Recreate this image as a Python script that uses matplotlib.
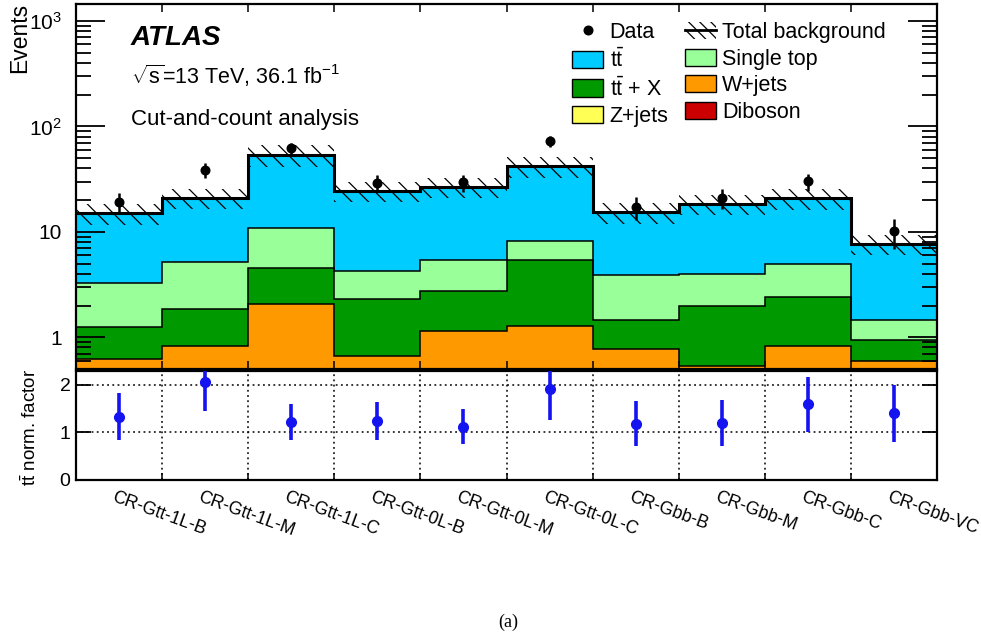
import numpy as np
import matplotlib
matplotlib.use("Agg")
import matplotlib.pyplot as plt
from matplotlib.patches import Patch
from matplotlib.lines import Line2D
from matplotlib import transforms
from matplotlib.ticker import FixedLocator, LogLocator, NullFormatter

plt.rcParams['font.family'] = ['Liberation Sans', 'DejaVu Sans']
plt.rcParams['mathtext.fontset'] = 'custom'
plt.rcParams['mathtext.rm'] = 'Liberation Sans'
plt.rcParams['mathtext.it'] = 'Liberation Sans:italic'
plt.rcParams['mathtext.bf'] = 'Liberation Sans:bold'
plt.rcParams['hatch.linewidth'] = 0.9

# ---------------- data ----------------
regions = ["CR-Gtt-1L-B", "CR-Gtt-1L-M", "CR-Gtt-1L-C", "CR-Gtt-0L-B", "CR-Gtt-0L-M",
           "CR-Gtt-0L-C", "CR-Gbb-B", "CR-Gbb-M", "CR-Gbb-C", "CR-Gbb-VC"]
diboson = [0.05, 0.06, 0.12, 0.04, 0.08, 0.10, 0.05, 0.03, 0.06, 0.04]
zjets = [0.02, 0.03, 0.06, 0.05, 0.06, 0.08, 0.06, 0.04, 0.05, 0.03]
wjets = [0.55, 0.74, 1.89, 0.58, 1.01, 1.10, 0.66, 0.46, 0.72, 0.53]
ttx = [0.62, 1.02, 2.44, 1.63, 1.61, 4.17, 0.68, 1.46, 1.59, 0.35]
singletop = [2.03, 3.33, 6.29, 1.95, 2.69, 2.82, 2.44, 2.02, 2.54, 0.52]
ttbar = [11.83, 15.72, 43.2, 20.35, 21.35, 33.63, 11.41, 14.49, 15.84, 6.24]
bkg_err = [3.4, 4.6, 12.5, 5.4, 5.9, 9.2, 3.4, 4.1, 4.6, 1.7]
data = [19.2, 38.4, 62.2, 29.3, 29.5, 72.4, 17.1, 21.1, 30.1, 10.1]
data_err = [4.4, 6.2, 7.9, 5.4, 5.4, 8.5, 4.1, 4.6, 5.5, 3.2]
norm_factor = [1.33, 2.06, 1.22, 1.24, 1.12, 1.92, 1.18, 1.19, 1.59, 1.40]
norm_err = [0.49, 0.61, 0.37, 0.40, 0.37, 0.65, 0.47, 0.48, 0.58, 0.60]

components = [
    ("Diboson", diboson, "#CC0000"),
    ("Z+jets", zjets, "#FFFF55"),
    ("W+jets", wjets, "#FF9900"),
    (r"t$\bar{\mathrm{t}}$ + X", ttx, "#009900"),
    ("Single top", singletop, "#99FF99"),
    (r"t$\bar{\mathrm{t}}$", ttbar, "#00CCFF"),
]

W, H = 981, 637
fig = plt.figure(figsize=(W / 100, H / 100), dpi=100)

def fx(x):
    return x / W

def fy(y):
    return 1 - y / H

L, R = 76, 937
ax = fig.add_axes([fx(L), fy(369), fx(R - L), (369 - 4) / H])
ax2 = fig.add_axes([fx(L), fy(480), fx(R - L), (480 - 370.5) / H])

n = len(regions)
edges = np.arange(n + 1)
centers = edges[:-1] + 0.5

# stacked histogram
ymin = 0.5
bottom = np.zeros(n)
tops = []
for name, vals, col in components:
    top = bottom + np.array(vals)
    ax.stairs(top, edges, baseline=np.maximum(bottom, 1e-3), fill=True, color=col, lw=0)
    tops.append(top)
    bottom = top
for top in tops[:-1]:
    ax.stairs(top, edges, baseline=None, color='black', lw=1.1)
total = bottom
bkg_err = np.array(bkg_err)
ax.stairs(total + bkg_err, edges, baseline=total - bkg_err, fill=True,
          facecolor='none', edgecolor='black', hatch='\\\\', lw=0)
ax.stairs(total, edges, baseline=None, color='black', lw=2.2)

ax.errorbar(centers, data, yerr=data_err, fmt='o', color='black', ms=6.2,
            elinewidth=1.8, capsize=0, zorder=5)

ax.set_yscale('log')
ax.set_ylim(ymin, 1450)
ax.set_xlim(0, n)
ax.yaxis.set_major_locator(FixedLocator([1, 10, 100, 1000]))
ax.set_yticklabels(['1', '10', r'10$^{2}$', r'10$^{3}$'])
ax.yaxis.set_minor_locator(LogLocator(base=10, subs=np.arange(2, 10)))
ax.yaxis.set_minor_formatter(NullFormatter())
ax.set_xticks(edges)
ax.set_xticklabels([])
ax.tick_params(axis='y', which='major', direction='in', length=21, width=1.3,
               left=True, right=True, labelsize=15, pad=10)
ax.tick_params(axis='y', which='minor', direction='in', length=10.5, width=1.3,
               left=True, right=True)
ax.tick_params(axis='x', which='major', direction='in', length=6, width=1.1,
               top=True, bottom=True)
for s in ax.spines.values():
    s.set_linewidth(1.6)

# legend
handles = [
    Line2D([], [], marker='o', color='black', ls='none', ms=6.2),
    Patch(facecolor=components[5][2], edgecolor='black', lw=1),
    Patch(facecolor=components[3][2], edgecolor='black', lw=1),
    Patch(facecolor=components[1][2], edgecolor='black', lw=1),
    (Patch(facecolor='none', edgecolor='black', hatch='\\\\\\', lw=0),
     Line2D([], [], color='black', lw=2)),
    Patch(facecolor=components[4][2], edgecolor='black', lw=1),
    Patch(facecolor=components[2][2], edgecolor='black', lw=1),
    Patch(facecolor=components[0][2], edgecolor='black', lw=1),
]
labels = ["Data", components[5][0], components[3][0], components[1][0],
          "Total background", components[4][0], components[2][0], components[0][0]]
fig.legend(handles, labels, loc='upper left', bbox_to_anchor=(fx(572), fy(22)),
           ncol=2, frameon=False, fontsize=15.5, borderpad=0, borderaxespad=0,
           handlelength=1.45, handleheight=0.85, handletextpad=0.3,
           columnspacing=0.75, labelspacing=0.26)

# texts
fig.text(fx(131), fy(45), "ATLAS", fontsize=20, fontweight='bold', fontstyle='italic',
         va='baseline', ha='left')
fig.text(fx(131), fy(84), r"$\sqrt{\mathrm{s}}$=13 TeV, 36.1 fb$^{\mathrm{-1}}$", fontsize=15.5,
         va='baseline', ha='left')
fig.text(fx(131), fy(125), "Cut-and-count analysis", fontsize=16,
         va='baseline', ha='left')
fig.text(fx(20), fy(3), "Events", fontsize=16.5, rotation=90, ha='center', va='top')
fig.text(fx(30), fy(427), r"t$\bar{\mathrm{t}}$ norm. factor", fontsize=13.5,
         rotation=90, ha='center', va='center')
fig.text(fx(508), fy(622), "(a)", fontsize=13, family=['Liberation Serif', 'DejaVu Serif'],
         ha='center', va='center')

# lower panel
ax2.errorbar(centers, norm_factor, yerr=norm_err, fmt='o', color='#1414F0', ms=7,
             elinewidth=2.6, capsize=0, zorder=5)
ax2.set_xlim(0, n)
ax2.set_ylim(0, 2.3)
ax2.set_yticks([0, 1, 2])
ax2.set_xticks(edges)
ax2.set_xticklabels([])
for yv in [1, 2]:
    ax2.axhline(yv, color='black', lw=1.1, ls=(0, (1.2, 2.2)), zorder=1)
for xv in edges[1:-1]:
    ax2.axvline(xv, color='black', lw=1.1, ls=(0, (1.2, 2.2)), zorder=1)
ax2.tick_params(axis='y', direction='in', length=11, width=1.3, left=True, right=True,
                labelsize=14, pad=4)
ax2.tick_params(axis='x', direction='in', length=5, width=1.1, top=False, bottom=True)
for s in ax2.spines.values():
    s.set_linewidth(1.6)

trans = transforms.blended_transform_factory(ax2.transData, fig.transFigure)
for c, lab in zip(centers, regions):
    ax2.text(c - 0.04, fy(489), lab, transform=trans, rotation=-20,
             rotation_mode='anchor', ha='left', va='top', fontsize=12.8)

fig.savefig("out.png", dpi=100)
